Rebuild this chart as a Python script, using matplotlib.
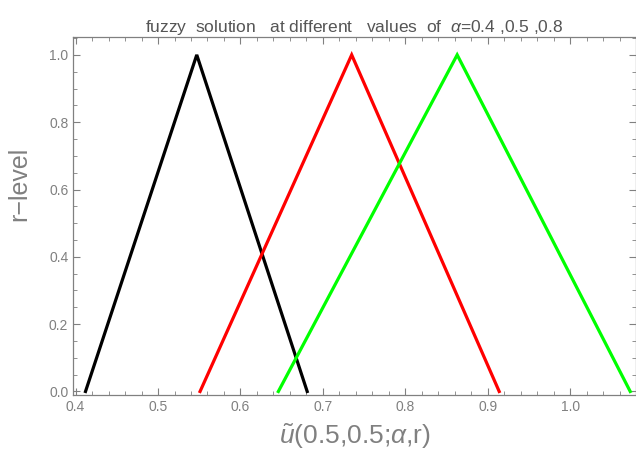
import matplotlib
matplotlib.use("Agg")
import matplotlib.pyplot as plt
from matplotlib.ticker import MultipleLocator

# triangular fuzzy numbers: (left foot, peak, right foot)
alpha_04 = [0.412, 0.547, 0.681]
alpha_05 = [0.551, 0.735, 0.914]
alpha_08 = [0.646, 0.863, 1.073]
r_levels = [0.0, 1.0, 0.0]
colors = ["black", "#ff0000", "#00ff00"]

plt.rcParams["font.family"] = ["Liberation Sans", "DejaVu Sans"]
plt.rcParams["mathtext.fontset"] = "custom"
plt.rcParams["mathtext.it"] = "Liberation Sans:italic"
plt.rcParams["mathtext.rm"] = "Liberation Sans"

gray = "#808080"

fig = plt.figure(figsize=(6.36, 4.57), dpi=100)
ax = fig.add_axes([0.115, 0.136, 0.885, 0.783])

for tri, c in zip([alpha_04, alpha_05, alpha_08], colors):
    ax.plot(tri, r_levels, color=c, lw=2.3, solid_joinstyle="miter")

ax.set_xlim(0.397, 1.08)
ax.set_ylim(-0.01, 1.053)
ax.xaxis.set_major_locator(MultipleLocator(0.1))
ax.xaxis.set_minor_locator(MultipleLocator(0.02))
ax.yaxis.set_major_locator(MultipleLocator(0.2))
ax.yaxis.set_minor_locator(MultipleLocator(0.05))
ax.xaxis.set_major_formatter(plt.FuncFormatter(lambda v, p: f"{v:.1f}"))
ax.yaxis.set_major_formatter(plt.FuncFormatter(lambda v, p: f"{v:.1f}"))

ax.tick_params(which="both", direction="in", top=True, right=True,
               color=gray, labelcolor=gray, labelsize=10)
ax.tick_params(which="major", length=5, width=0.8)
ax.tick_params(which="minor", length=3, width=0.6)
for s in ax.spines.values():
    s.set_color(gray)
    s.set_linewidth(0.9)

ax.set_title(r"fuzzy  solution   at different   values  of  $\alpha$=0.4 ,0.5 ,0.8",
             color="#555555", fontsize=12.5, pad=3)
ax.set_xlabel(r"$\tilde{u}$(0.5,0.5;$\alpha$,r)", color=gray, fontsize=19, labelpad=6)
ax.set_ylabel("r\u2212level", color=gray, fontsize=18, labelpad=8)
ax.yaxis.set_label_coords(-0.075, 0.59)

fig.savefig("out.png", dpi=100)
